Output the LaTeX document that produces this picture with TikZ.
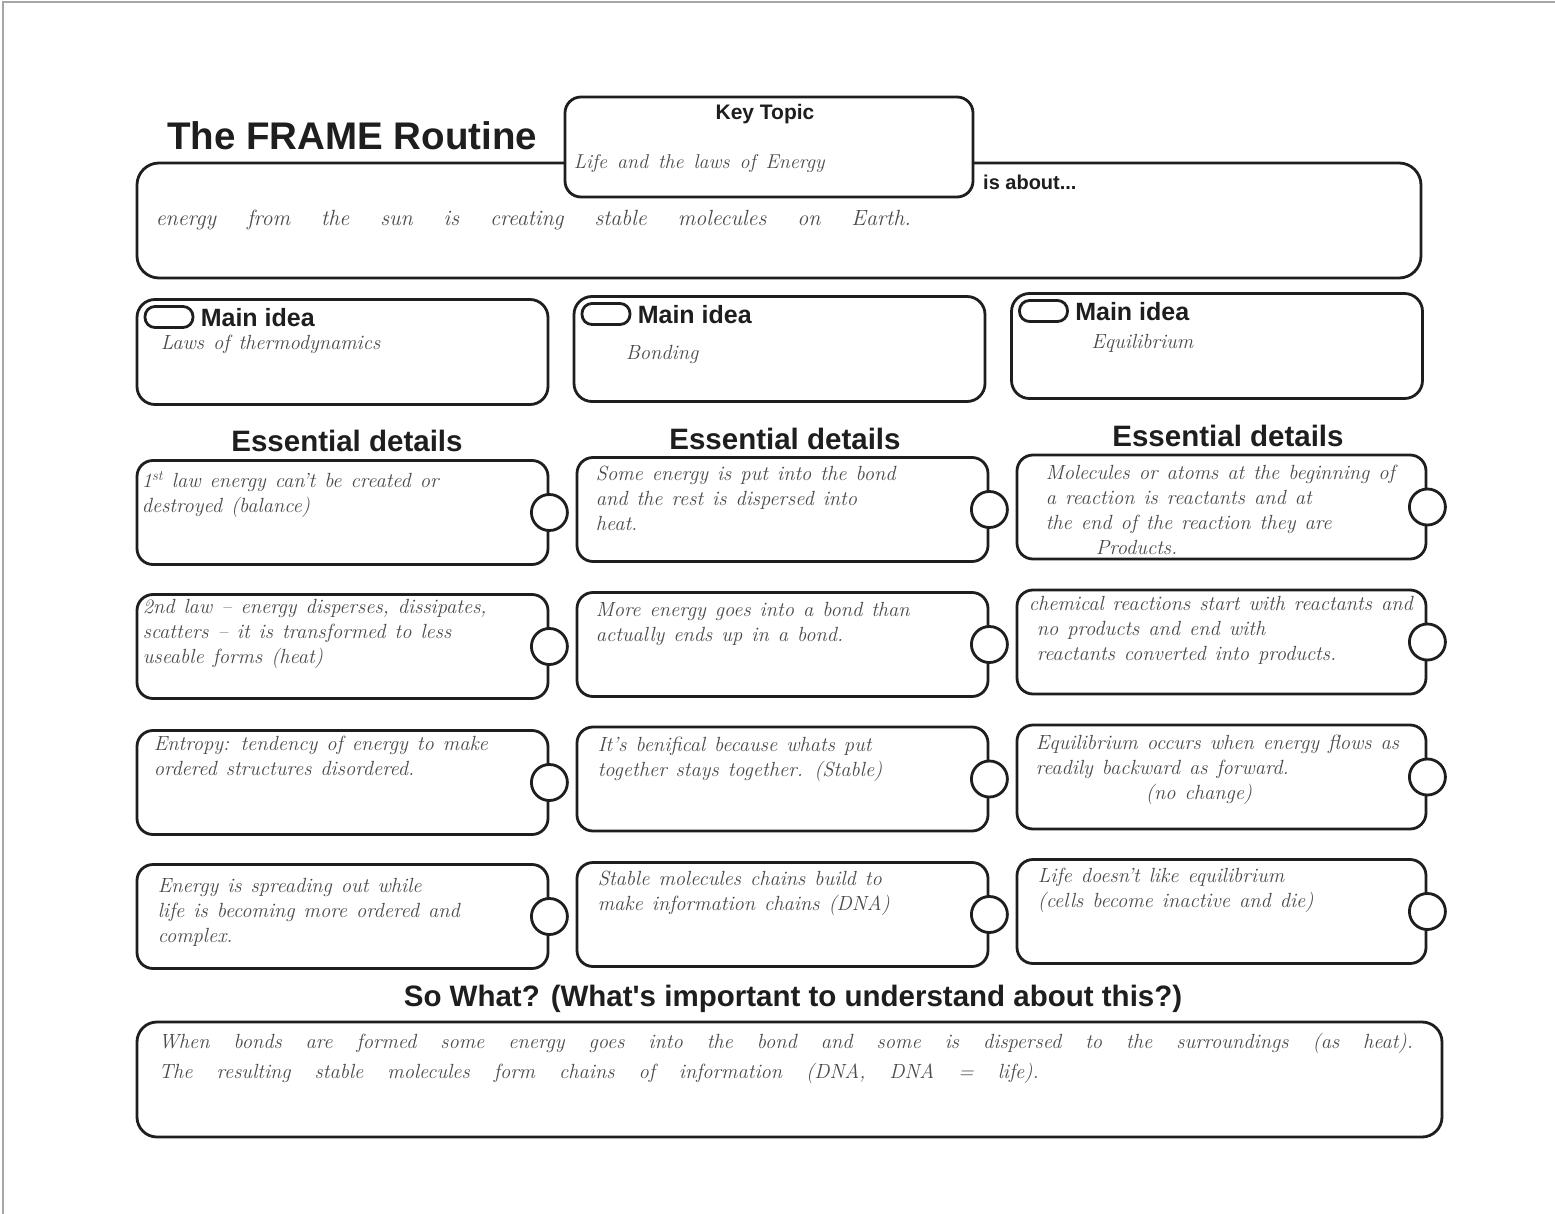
\documentclass[tikz,border=0pt]{standalone}
\usepackage{fontspec}
\usepackage{tikz}
\usepackage{xcolor}
\usetikzlibrary{shapes,positioning}
\newfontfamily\headfont{Liberation Sans}
\definecolor{ink}{HTML}{1E1E1E}
\definecolor{pencil}{HTML}{4A4A4A}

\begin{document}
\begin{tikzpicture}[x=1pt, y=-1pt,
    box/.style={rectangle, draw=ink, line width=2.8pt, rounded corners=16pt, fill=white, inner sep=0pt},
    head/.style={font=\headfont\bfseries\fontsize{29.5}{34}\selectfont, text=ink, inner sep=0pt},
    hand/.style={font={\itshape\fontsize{20.5}{25}\selectfont\spaceskip=9pt plus 2pt}, text=pencil, align=left, inner sep=0pt, anchor=north west},
    knob/.style={circle, draw=ink, line width=2.8pt, fill=white, minimum size=36pt, inner sep=0pt},
    pill/.style={rectangle, draw=ink, line width=2.8pt, rounded corners=10pt, minimum width=48pt, minimum height=21pt, inner sep=0pt, anchor=north west}]
  \fill[white] (0,0) rectangle (1555,1214);
  \useasboundingbox (0,0) rectangle (1555,1214);
  \draw[black!35, line width=1.5pt] (3,1214) -- (3,2) -- (1555,2);

  % title, key topic and "is about"
  \node[head, font=\headfont\bfseries\fontsize{38.5}{44}\selectfont] (title) at (352,136) {The FRAME Routine};
  \node[box, minimum width=1284pt, minimum height=115pt, rounded corners=22pt] (about) at (779,220.5) {};
  \node[box, minimum width=408pt, minimum height=100pt] (kt) at (769,147) {};
  \node[head, font=\headfont\bfseries\fontsize{21}{25}\selectfont, anchor=base] (ktlbl) at (765,120) {Key Topic};
  \node[hand, font={\itshape\fontsize{20}{24}\selectfont\spaceskip=10pt plus 2pt}, below right=59pt and 10pt of kt.north west] (kttxt) {Life and the laws of Energy};
  \node[head, font=\headfont\bfseries\fontsize{20}{24}\selectfont, anchor=base west] (aboutlbl) at (983,190) {is about...};
  \node[hand, font={\itshape\fontsize{22}{26}\selectfont\spaceskip=31pt plus 4pt}, below right=48pt and 20pt of about.north west] (abouttxt)
    {energy from the sun is creating stable molecules on Earth.};

  % main ideas
  \foreach \n/\cx/\cy/\dy/\dx/\txt in {
      mi1/342.5/352/37/25/{Laws of thermodynamics},
      mi2/779.5/349/50/53/{Bonding},
      mi3/1217/346/42/81/{Equilibrium}}{
    \node[box, minimum width=411pt, minimum height=105pt, rounded corners=18pt] (\n) at (\cx,\cy) {};
    \node[pill, below right=7pt and 8pt of \n.north west] (\n pill) {};
    \node[head, font=\headfont\bfseries\fontsize{25}{30}\selectfont, anchor=north west, below right=10pt and 65pt of \n.north west] (\n lbl) {Main idea};
    \node[hand, below right=\dy pt and \dx pt of \n.north west] (\n txt) {\txt};
  }

  % essential details
  \node[head] (ed1) at (347,441) {Essential details};
  \node[head] (ed2) at (785,439) {Essential details};
  \node[head] (ed3) at (1228,436) {Essential details};

  \foreach \n/\cx/\cy/\w/\dy/\dx/\txt in {
      d11/342.5/512.5/411/12/6/{1\textsuperscript{st} law energy can't be created or\\destroyed (balance)},
      d12/342.5/646.5/411/6/7/{2nd law -- energy disperses, dissipates,\\scatters -- it is transformed to less\\useable forms (heat)},
      d13/342.5/782.5/411/7/18/{Entropy: tendency of energy to make\\ordered structures disordered.},
      d14/342.5/916.5/411/15/22/{Energy is spreading out while\\life is becoming more ordered and\\complex.},
      d21/782.5/509.5/411/10/20/{Some energy is put into the bond\\and the rest is dispersed into\\heat.},
      d22/782.5/644.5/411/11/20/{More energy goes into a bond than\\actually ends up in a bond.},
      d23/782.5/779/411/11/22/{It's benifical because whats put\\together stays together. (Stable)},
      d24/782.5/914.5/411/10/22/{Stable molecules chains build to\\make information chains (DNA)},
      d31/1221.5/507/409/11/30/{Molecules or atoms at the beginning of\\a reaction is reactants and at\\the end of the reaction they are\\\hspace*{50pt}Products.},
      d32/1221.5/642/409/7/13/{chemical reactions start with reactants and\\\hspace*{8pt}no products and end with\\\hspace*{8pt}reactants converted into products.},
      d33/1221.5/777/409/11/20/{Equilibrium occurs when energy flows as\\readily backward as forward.\\\hspace*{110pt}(no change)},
      d34/1221.5/911.5/409/10/22/{Life doesn't like equilibrium\\(cells become inactive and die)}}{
    \node[box, minimum width=\w pt, minimum height=104pt] (\n) at (\cx,\cy) {};
    \node[knob] (\n knob) at (\n.east) {};
    \node[hand, below right=\dy pt and \dx pt of \n.north west] (\n txt) {\txt};
  }

  % so what
  \node[head] (swlbl) at (793,999) {So What? (What's important to understand about this?)};
  \node[box, minimum width=1305pt, minimum height=115pt, rounded corners=20pt] (sw) at (789.5,1079.5) {};
  \node[hand, font={\itshape\fontsize{20.5}{30}\selectfont\spaceskip=24pt plus 4pt}, below right=12pt and 23pt of sw.north west] (swtxt)
    {When bonds are formed some energy goes into the bond and some is dispersed to the surroundings (as heat).\\
     The resulting stable molecules form chains of information (DNA, DNA = life).};
\end{tikzpicture}
\end{document}
